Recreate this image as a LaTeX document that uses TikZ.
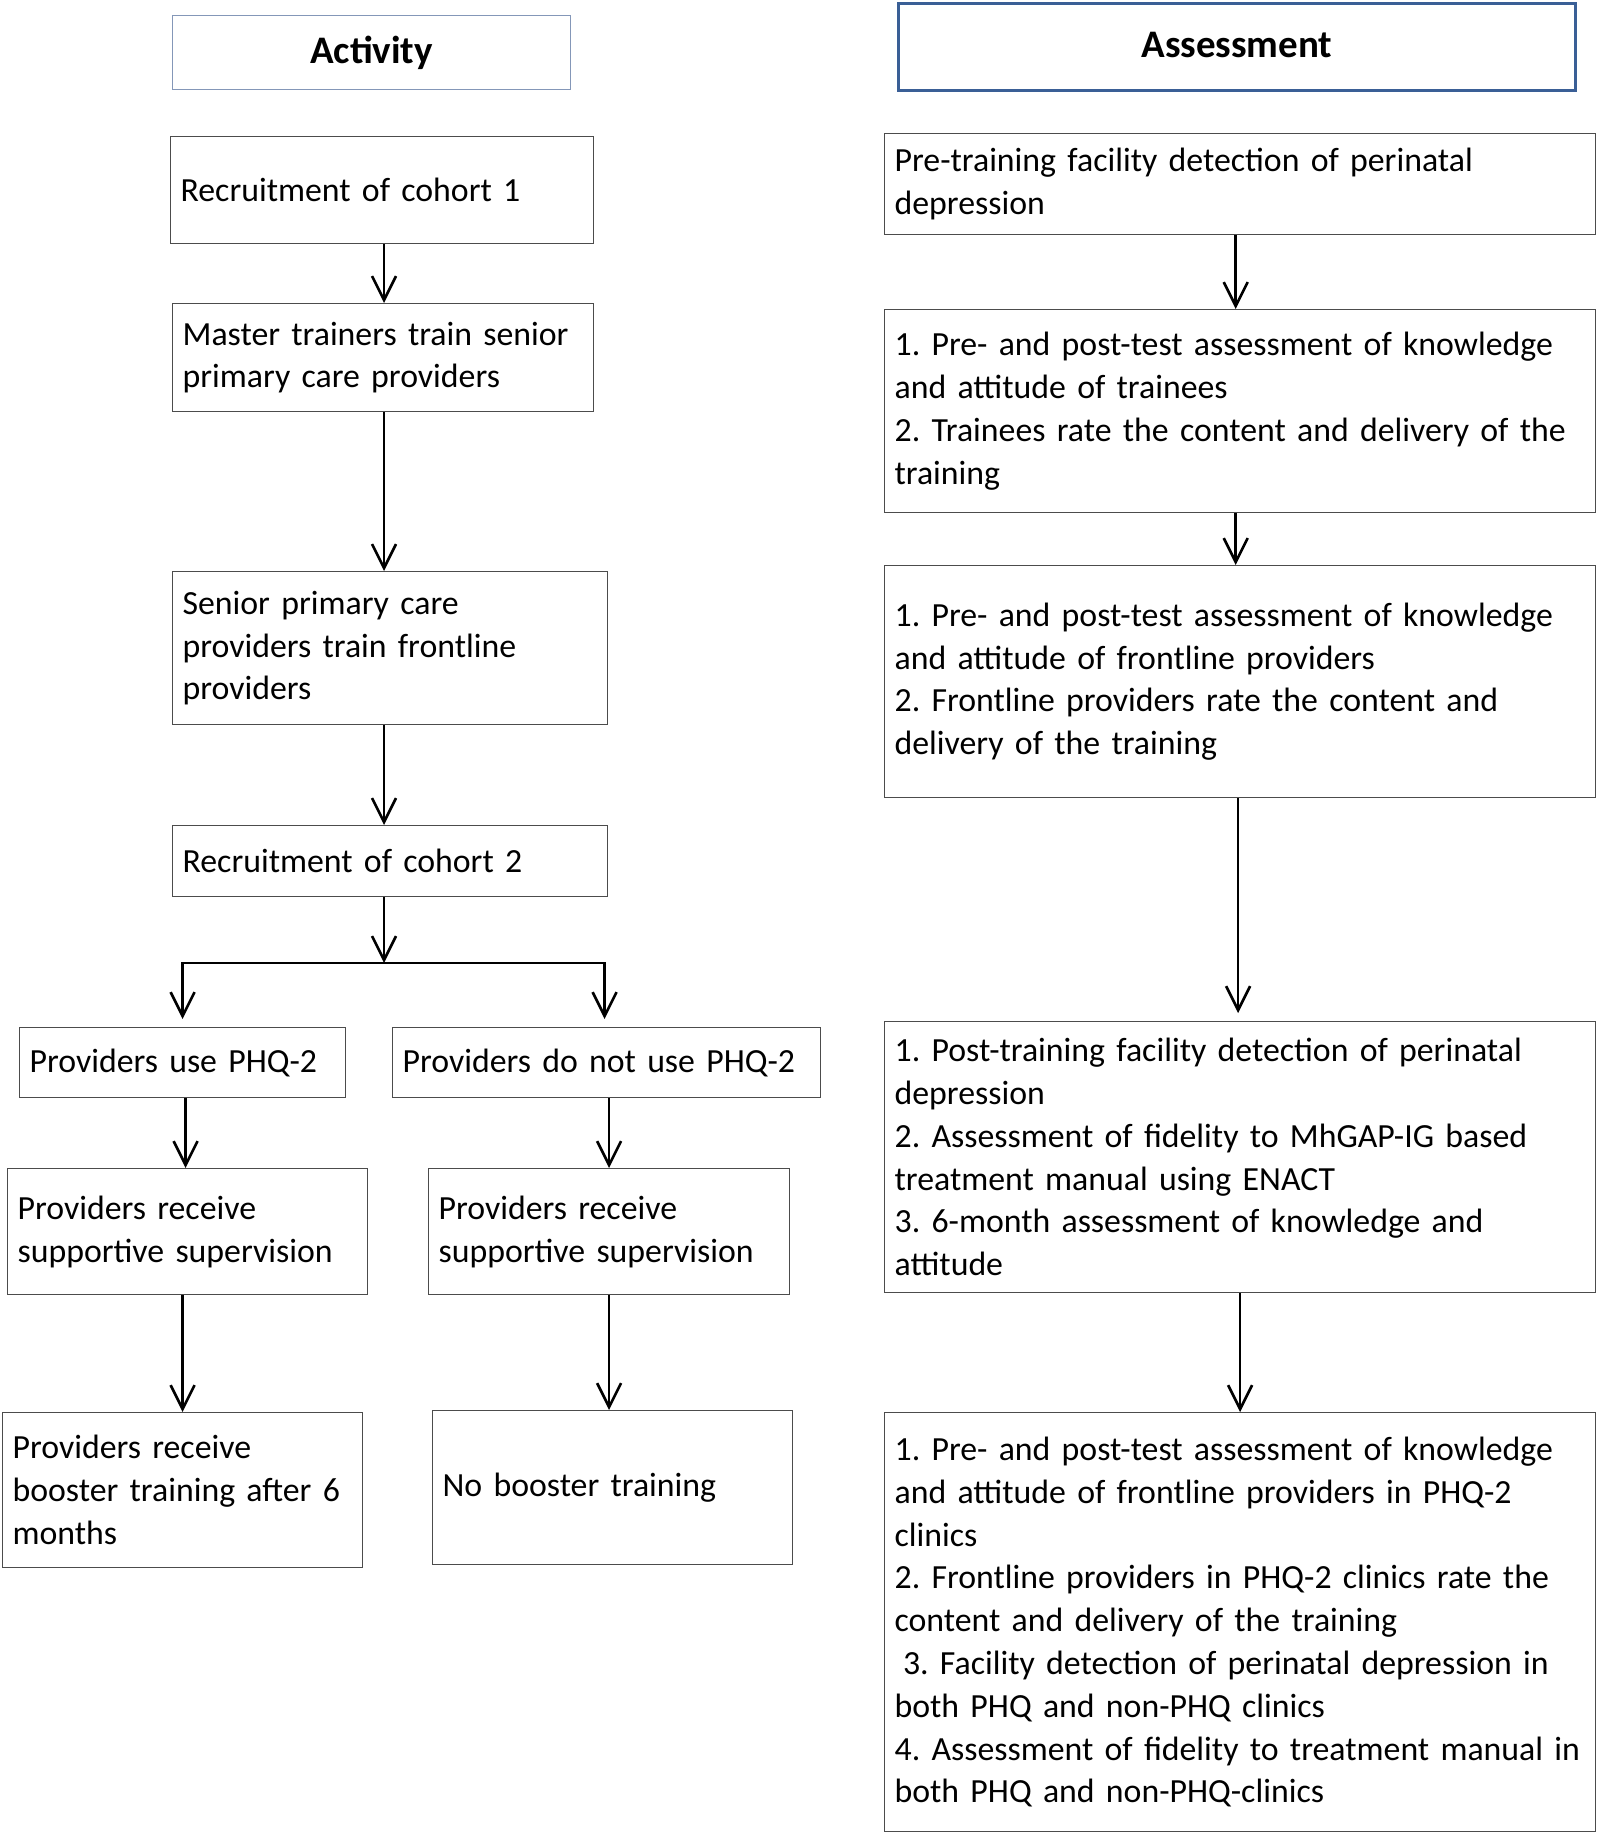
\documentclass[tikz,border=0pt]{standalone}
\usepackage{fontspec}
\setmainfont{Carlito}
\usetikzlibrary{arrows.meta}
\definecolor{headblue}{HTML}{3A5F96}
\definecolor{headgray}{HTML}{8497B8}
\frenchspacing
\begin{document}
\begin{tikzpicture}[
			x=0.5pt, y=-0.5pt,
			box/.style = {draw=black!70, line width=0.6pt, anchor=north west, align=left, inner xsep=5pt, inner ysep=0pt, font=\fontsize{16.9}{21.4}\selectfont},
			head/.style = {anchor=north west, inner sep=0pt, align=center, font=\fontsize{19.5}{23}\selectfont\bfseries},
			arr/.style = {-{Straight Barb[length=12pt,width=12pt]}, line width=1.3pt},
			]
			\useasboundingbox (0,0) rectangle (1597,1834);
			\node[head, draw=headgray, line width=0.6pt, minimum width=199pt, minimum height=37pt] (act) at (172,15) {Activity};
			\node[head, draw=headblue, line width=1.4pt, minimum width=338.5pt, minimum height=43.5pt] (ass) at (897,2) {\raisebox{2.5pt}{Assessment}};
			\node[box, text width=201.5pt, minimum height=53.5pt] (cohort1) at (170,136) {Recruitment of cohort 1};
			\node[box, text width=200.5pt, minimum height=54pt] (master) at (172,303) {Master trainers train senior\\primary care providers};
			\node[box, text width=207.5pt, minimum height=76.5pt] (senior) at (172,571) {Senior primary care\\providers train frontline\\providers};
			\node[box, text width=207.5pt, minimum height=35.5pt] (cohort2) at (172,825) {Recruitment of cohort 2};
			\node[box, text width=153pt, minimum height=35pt] (usephq) at (19,1027) {Providers use PHQ-2};
			\node[box, text width=204pt, minimum height=35pt] (nophq) at (392,1027) {Providers do not use PHQ-2};
			\node[box, text width=170pt, minimum height=63pt] (superA) at (7,1168) {Providers receive\\supportive supervision};
			\node[box, text width=170.5pt, minimum height=63pt] (superB) at (428,1168) {Providers receive\\supportive supervision};
			\node[box, text width=170pt, minimum height=77.5pt] (booster) at (2,1412) {Providers receive\\booster training after 6\\months};
			\node[box, text width=170pt, minimum height=77pt] (nobooster) at (432,1410) {No booster training};
			\node[box, text width=345.5pt, minimum height=50.5pt] (pre) at (884,133) {Pre-training facility detection of perinatal\\depression};
			\node[box, text width=345.5pt, minimum height=101.5pt] (testA) at (884,309) {1. Pre- and post-test assessment of knowledge\\and attitude of trainees\\2. Trainees rate the content and delivery of the\\training};
			\node[box, text width=345.5pt, minimum height=116pt] (testB) at (884,565) {1. Pre- and post-test assessment of knowledge\\and attitude of frontline providers\\2. Frontline providers rate the content and\\delivery of the training};
			\node[box, text width=345.5pt, minimum height=135.5pt] (post) at (884,1021) {1. Post-training facility detection of perinatal\\depression\\2. Assessment of fidelity to MhGAP-IG based\\treatment manual using ENACT\\3. 6-month assessment of knowledge and\\attitude};
			\node[box, text width=345.5pt, minimum height=209.5pt] (final) at (884,1412) {1. Pre- and post-test assessment of knowledge\\and attitude of frontline providers in PHQ-2\\clinics\\2. Frontline providers in PHQ-2 clinics rate the\\content and delivery of the training\\\hspace{0.25em}3. Facility detection of perinatal depression in\\both PHQ and non-PHQ clinics\\4. Assessment of fidelity to treatment manual in\\both PHQ and non-PHQ-clinics};
			\coordinate (fork) at (384,963);
			\draw[arr] (cohort1.south -| fork) -- (master.north -| fork);
			\draw[arr] (master.south -| fork) -- (senior.north -| fork);
			\draw[arr] (senior.south -| fork) -- (cohort2.north -| fork);
			\draw[arr] (cohort2.south -| fork) -- (fork);
			\draw[arr] (fork) -| ([yshift=4pt]usephq.north);
			\draw[arr] (fork) -| ([xshift=-1pt,yshift=4pt]nophq.north);
			\draw[arr] ([xshift=-1pt]usephq.south -| superA) -- ([xshift=-1pt]superA.north);
			\draw[arr] (nophq.south -| superB) -- (superB.north);
			\draw[arr] (superA.south -| booster) -- (booster.north);
			\draw[arr] (superB.south) -- (superB.south |- nobooster.north);
			\draw[arr] ([xshift=-2.2pt]pre.south) -- ([xshift=-2.2pt]testA.north);
			\draw[arr] ([xshift=-2.2pt]testA.south) -- ([xshift=-2.2pt]testB.north);
			\draw[arr] ([xshift=-1pt]testB.south) -- ([xshift=-1pt,yshift=4pt]post.north);
			\draw[arr] (post.south) -- (final.north);
		\end{tikzpicture}
\end{document}
